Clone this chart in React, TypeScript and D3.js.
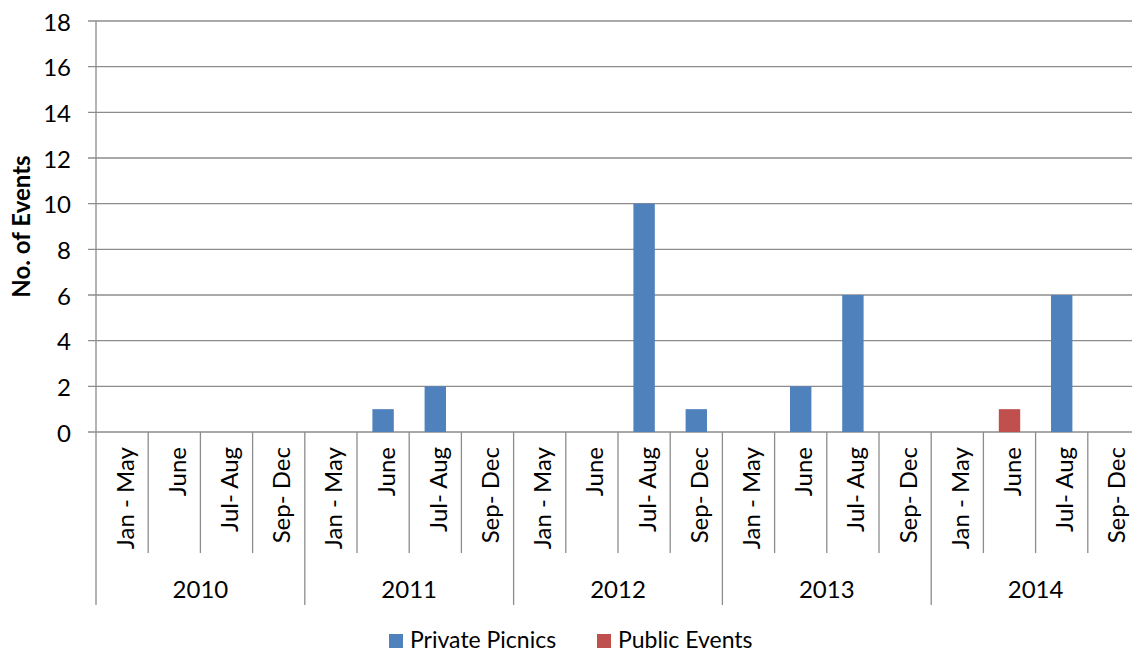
import React, { useEffect, useRef } from 'react'
import * as d3 from 'd3'

const years = ['2010', '2011', '2012', '2013', '2014']
const periods = ['Jan - May', 'June', 'Jul- Aug', 'Sep- Dec']
const seriesNames = ['Private Picnics', 'Public Events']
const seriesColors = ['#4F81BD', '#C0504D']
// one value per year/period, in order
const privatePicnics = [0, 0, 0, 0, 0, 1, 2, 0, 0, 0, 10, 1, 0, 2, 6, 0, 0, 0, 6, 0]
const publicEvents = [0, 0, 0, 0, 0, 0, 0, 0, 0, 0, 0, 0, 0, 0, 0, 0, 0, 1, 0, 0]
const yTicks = [0, 2, 4, 6, 8, 10, 12, 14, 16, 18]

const FONT = 'Lato, "Open Sans", sans-serif'

export default function App() {
  const ref = useRef<SVGSVGElement>(null)

  useEffect(() => {
    const width = 1132, height = 654
    const margin = { top: 21, left: 96, right: -8, bottom: 222 }
    const svg = d3.select(ref.current)
    svg.selectAll('*').remove()
    svg.attr('width', width).attr('height', height)

    const cats = years.flatMap(y => periods.map(p => y + '|' + p))
    const x = d3.scaleBand().domain(cats).range([margin.left, width - margin.right])
    const y = d3.scaleLinear().domain([0, 18]).range([height - margin.bottom, margin.top])
    const y0 = y(0)
    const grey = '#8c8c8c'

    // gridlines + tick marks
    svg.append('g').selectAll('line').data(yTicks).join('line')
      .attr('x1', margin.left - 8).attr('x2', width)
      .attr('y1', d => y(d)).attr('y2', d => y(d))
      .attr('stroke', grey).attr('stroke-width', 1.3)

    svg.append('g').selectAll('text').data(yTicks).join('text')
      .attr('x', 71).attr('y', d => y(d))
      .attr('text-anchor', 'end').attr('dominant-baseline', 'central')
      .attr('font-family', FONT).attr('font-size', 24).attr('fill', '#000')
      .text(d => d)

    // bars (overlapping, centered in category)
    const bw = x.bandwidth() * 0.41
    const series = [privatePicnics, publicEvents]
    series.forEach((vals, si) => {
      svg.append('g').selectAll('rect').data(vals.map((v, i) => ({ v, c: cats[i] })).filter(d => d.v > 0)).join('rect')
        .attr('x', d => x(d.c)! + x.bandwidth() / 2 - bw / 2)
        .attr('width', bw)
        .attr('y', d => y(d.v))
        .attr('height', d => y0 - y(d.v))
        .attr('fill', seriesColors[si])
    })

    // axes lines
    svg.append('line').attr('x1', margin.left).attr('x2', margin.left)
      .attr('y1', margin.top).attr('y2', 605).attr('stroke', grey).attr('stroke-width', 1.3)

    const bounds = d3.range(1, cats.length + 1)
    svg.append('g').selectAll('line').data(bounds).join('line')
      .attr('x1', i => margin.left + i * x.step()).attr('x2', i => margin.left + i * x.step())
      .attr('y1', y0).attr('y2', i => (i % 4 === 0 ? 605 : 553))
      .attr('stroke', grey).attr('stroke-width', 1.3)

    // category labels
    svg.append('g').selectAll('text').data(cats).join('text')
      .attr('transform', d => `translate(${x(d)! + x.bandwidth() / 2 + 2},447) rotate(-90)`)
      .attr('text-anchor', 'end').attr('dominant-baseline', 'central')
      .attr('font-family', FONT).attr('font-size', 24).attr('fill', '#000')
      .text(d => d.split('|')[1])

    // year labels
    svg.append('g').selectAll('text').data(years).join('text')
      .attr('x', (d, i) => margin.left + (i * 4 + 2) * x.step())
      .attr('y', 588)
      .attr('text-anchor', 'middle').attr('dominant-baseline', 'central')
      .attr('font-family', FONT).attr('font-size', 24).attr('fill', '#000')
      .text(d => d)

    // y title
    svg.append('text')
      .attr('transform', `translate(20,${(margin.top + y0) / 2}) rotate(-90)`)
      .attr('text-anchor', 'middle').attr('dominant-baseline', 'central')
      .attr('font-family', FONT).attr('font-size', 24).attr('font-weight', 'bold')
      .text('No. of Events')

    // legend
    const legX = [389, 597]
    const leg = svg.append('g').selectAll('g').data(seriesNames).join('g')
      .attr('transform', (d, i) => `translate(${legX[i]},641)`)
    leg.append('rect').attr('x', 0).attr('y', -7).attr('width', 14).attr('height', 14)
      .attr('fill', (d, i) => seriesColors[i])
    leg.append('text').attr('x', 21).attr('y', 7)
      .attr('font-family', FONT).attr('font-size', 23).attr('fill', '#000')
      .text(d => d)
  }, [])

  return <svg ref={ref} style={{ position: 'absolute', left: 0, top: 0, background: '#fff' }} />
}
